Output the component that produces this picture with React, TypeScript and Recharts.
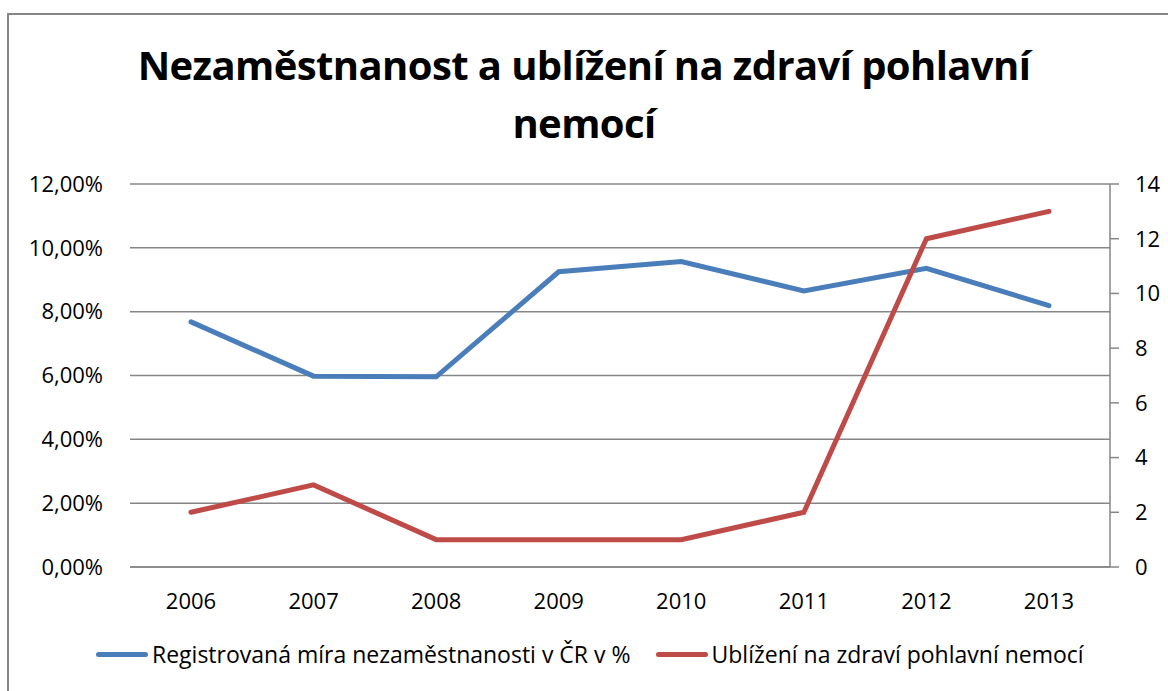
import React from "react";
import { LineChart, Line, XAxis, YAxis, CartesianGrid } from "recharts";

const years = ["2006", "2007", "2008", "2009", "2010", "2011", "2012", "2013"];
const unemployment = [7.68, 5.98, 5.96, 9.25, 9.57, 8.65, 9.36, 8.19];
const injuries = [2, 3, 1, 1, 1, 2, 12, 13];
const leftTicks = [0, 2, 4, 6, 8, 10, 12];
const rightTicks = [0, 2, 4, 6, 8, 10, 12, 14];
const seriesNames = [
  "Registrovaná míra nezaměstnanosti v ČR v %",
  "Ublížení na zdraví pohlavní nemocí",
];
const COLORS = ["#4a7ebb", "#be4b48"];
const GRID = "#868686";
const FONT = "'Open Sans', sans-serif";

const data = years.map((year, i) => ({
  year,
  rate: unemployment[i],
  injuries: injuries[i],
}));

const fmtPct = (v: number) => v.toFixed(2).replace(".", ",") + "%";

const App: React.FC = () => {
  const tick = { fill: "#000", fontSize: 22, fontFamily: FONT };
  return (
    <div
      style={{
        position: "absolute",
        left: 0,
        top: 0,
        width: 1168,
        height: 691,
        overflow: "hidden",
        background: "#fff",
        fontFamily: FONT,
      }}
    >
      <div
        style={{
          position: "absolute",
          left: 7,
          top: 13,
          width: 1300,
          height: 800,
          borderLeft: `2px solid ${GRID}`,
          borderTop: `2px solid ${GRID}`,
        }}
      />
      <div
        style={{
          position: "absolute",
          left: 0,
          top: 36,
          width: 1168,
          textAlign: "center",
          fontWeight: 700,
          fontSize: 40,
          lineHeight: "58px",
          letterSpacing: -0.6,
          color: "#000",
        }}
      >
        Nezaměstnanost a ublížení na zdraví pohlavní
        <br />
        nemocí
      </div>
      <div style={{ position: "absolute", left: 0, top: 0 }}>
        <LineChart
          width={1168}
          height={620}
          data={data}
          margin={{ top: 184, right: 0, bottom: 0, left: 0 }}
        >
          <CartesianGrid vertical={false} stroke={GRID} strokeWidth={1.5} yAxisId="left" />
          <XAxis
            dataKey="year"
            height={53}
            padding={{ left: 61, right: 61 }}
            axisLine={{ stroke: GRID, strokeWidth: 1.5 }}
            tickLine={false}
            tickSize={0}
            tickMargin={26}
            tick={tick}
          />
          <YAxis
            yAxisId="left"
            width={130}
            domain={[0, 12]}
            ticks={leftTicks}
            tickFormatter={fmtPct}
            axisLine={false}
            tickLine={false}
            tickSize={0}
            tickMargin={27}
            tick={tick}
          />
          <YAxis
            yAxisId="right"
            orientation="right"
            width={58}
            domain={[0, 14]}
            ticks={rightTicks}
            axisLine={{ stroke: GRID, strokeWidth: 1.5 }}
            tickLine={{ stroke: GRID, strokeWidth: 1.5 }}
            tickSize={9}
            tickMargin={16}
            tick={tick}
          />
          <Line
            yAxisId="left"
            dataKey="rate"
            name={seriesNames[0]}
            stroke={COLORS[0]}
            strokeWidth={5}
            strokeLinecap="round"
            dot={false}
            isAnimationActive={false}
          />
          <Line
            yAxisId="right"
            dataKey="injuries"
            name={seriesNames[1]}
            stroke={COLORS[1]}
            strokeWidth={5}
            strokeLinecap="round"
            dot={false}
            isAnimationActive={false}
          />
        </LineChart>
      </div>
      <div
        style={{
          position: "absolute",
          left: 96,
          top: 638,
          display: "flex",
          alignItems: "center",
          fontSize: 23,
          color: "#000",
          whiteSpace: "nowrap",
        }}
      >
        {seriesNames.map((name, i) => (
          <div key={name} style={{ display: "flex", alignItems: "center", marginRight: 25 }}>
            <span
              style={{
                display: "inline-block",
                width: 52,
                height: 5,
                borderRadius: 3,
                background: COLORS[i],
                marginRight: 4,
              }}
            />
            <span>{name}</span>
          </div>
        ))}
      </div>
    </div>
  );
};

export default App;
